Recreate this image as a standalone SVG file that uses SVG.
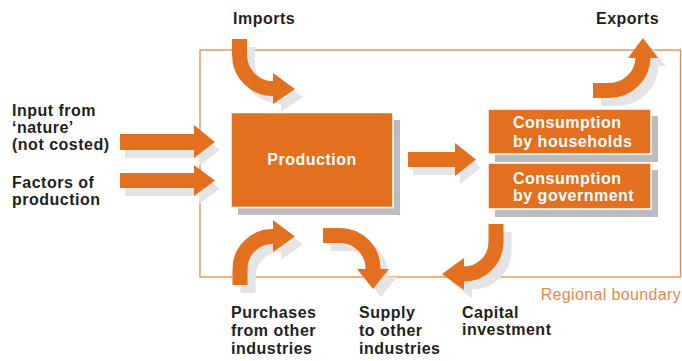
<svg xmlns="http://www.w3.org/2000/svg" xmlns:xlink="http://www.w3.org/1999/xlink" width="682" height="361" viewBox="0 0 682 361">
<style>
.lbl{font-family:"Liberation Sans",Arial,sans-serif;font-weight:bold;font-size:16px;letter-spacing:0.5px;fill:#231f20}
.wt{font-family:"Liberation Sans",Arial,sans-serif;font-weight:bold;font-size:16px;letter-spacing:0.5px;fill:#ffffff}
.box{fill:#e2701e;stroke:#ffffff;stroke-width:1.5}
.boxsh{fill:#bbbcc0}
.fg{fill:#e2701e;stroke:#e2701e}
.sh{fill:#e3e4e6;stroke:#e3e4e6}
.bnd{fill:none;stroke:#e8894a;stroke-width:1.3}
</style>
<defs>
<g id="aIn1"><path d="M120,142 H194" fill="none" stroke-width="16"/><polygon points="194,125 215,142 194,158" stroke="none"/></g>
<g id="aIn2"><path d="M120,180.5 H194" fill="none" stroke-width="15"/><polygon points="194,165 215,180.5 194,196" stroke="none"/></g>
<g id="aMid"><path d="M408,159.5 H455" fill="none" stroke-width="15"/><polygon points="455,143 476,159.5 455,176" stroke="none"/></g>
<g id="aImp"><path d="M239.5,39 V55 A33.5,33.5 0 0 0 273,88.5 H274" fill="none" stroke-width="15"/><polygon points="273,73 295,89 273,104" stroke="none"/></g>
<g id="aExp"><path d="M593,90.5 H609 A34,33.5 0 0 0 643,57 V58" fill="none" stroke-width="15"/><polygon points="628,58 658,58 643,38" stroke="none"/></g>
<g id="aPur"><path d="M240,285 V269 A32.5,32.5 0 0 1 272.5,236.5 H274" fill="none" stroke-width="15"/><polygon points="273,220 295,236.5 273,252" stroke="none"/></g>
<g id="aSup"><path d="M323,235.5 H340 A33,33 0 0 1 373,268.5 V270" fill="none" stroke-width="15"/><polygon points="357,269 389,269 373,289" stroke="none"/></g>
<g id="aCap"><path d="M496,224 V242 A32,32 0 0 1 464,274 H463" fill="none" stroke-width="15"/><polygon points="464,258 464,290 442,274" stroke="none"/></g>
</defs>

<rect id="boundary" class="bnd" x="200" y="50" width="480.5" height="227"/>
<text id="boundary-label" x="681" y="300" text-anchor="end" style="font-family:'Liberation Sans',Arial,sans-serif;font-size:16px;letter-spacing:0.35px;fill:#e8894a">Regional boundary</text>

<g id="connectors">
<use xlink:href="#aIn1" class="sh" transform="translate(5,8)"/>
<use xlink:href="#aIn2" class="sh" transform="translate(5,8)"/>
<use xlink:href="#aMid" class="sh" transform="translate(5,8)"/>
<use xlink:href="#aImp" class="sh" transform="translate(8,8)"/>
<use xlink:href="#aExp" class="sh" transform="translate(8,8)"/>
<use xlink:href="#aPur" class="sh" transform="translate(8,8)"/>
<use xlink:href="#aSup" class="sh" transform="translate(8,8)"/>
<use xlink:href="#aCap" class="sh" transform="translate(8,8)"/>
<use xlink:href="#aIn1" class="fg"/>
<use xlink:href="#aIn2" class="fg"/>
<use xlink:href="#aMid" class="fg"/>
<use xlink:href="#aImp" class="fg"/>
<use xlink:href="#aExp" class="fg"/>
<use xlink:href="#aPur" class="fg"/>
<use xlink:href="#aSup" class="fg"/>
<use xlink:href="#aCap" class="fg"/>
</g>

<g id="production">
<rect class="boxsh" x="238" y="120" width="162" height="95"/>
<rect class="box" x="231" y="112.5" width="162" height="95"/>
<text class="wt" x="312" y="165" text-anchor="middle">Production</text>
</g>

<g id="households">
<rect class="boxsh" x="495" y="116" width="163" height="46"/>
<rect class="box" x="488" y="109" width="163" height="45"/>
<text class="wt" x="513" y="128">Consumption</text>
<text class="wt" x="513" y="147">by households</text>
</g>

<g id="government">
<rect class="boxsh" x="495" y="170" width="163" height="47"/>
<rect class="box" x="488" y="163" width="163" height="46"/>
<text class="wt" x="513" y="184">Consumption</text>
<text class="wt" x="513" y="201">by government</text>
</g>

<g id="imports"><text class="lbl" x="233" y="24">Imports</text></g>
<g id="exports"><text class="lbl" x="596" y="24">Exports</text></g>
<g id="nature">
<text class="lbl" x="12" y="116">Input from</text>
<text class="lbl" x="12" y="133">‘nature’</text>
<text class="lbl" x="12" y="150">(not costed)</text>
</g>
<g id="factors">
<text class="lbl" x="12" y="188">Factors of</text>
<text class="lbl" x="12" y="205">production</text>
</g>
<g id="purchases">
<text class="lbl" x="231" y="318">Purchases</text>
<text class="lbl" x="231" y="336">from other</text>
<text class="lbl" x="231" y="354">industries</text>
</g>
<g id="supply">
<text class="lbl" x="359" y="318">Supply</text>
<text class="lbl" x="359" y="336">to other</text>
<text class="lbl" x="359" y="354">industries</text>
</g>
<g id="capital">
<text class="lbl" x="462" y="318">Capital</text>
<text class="lbl" x="462" y="335">investment</text>
</g>
</svg>
